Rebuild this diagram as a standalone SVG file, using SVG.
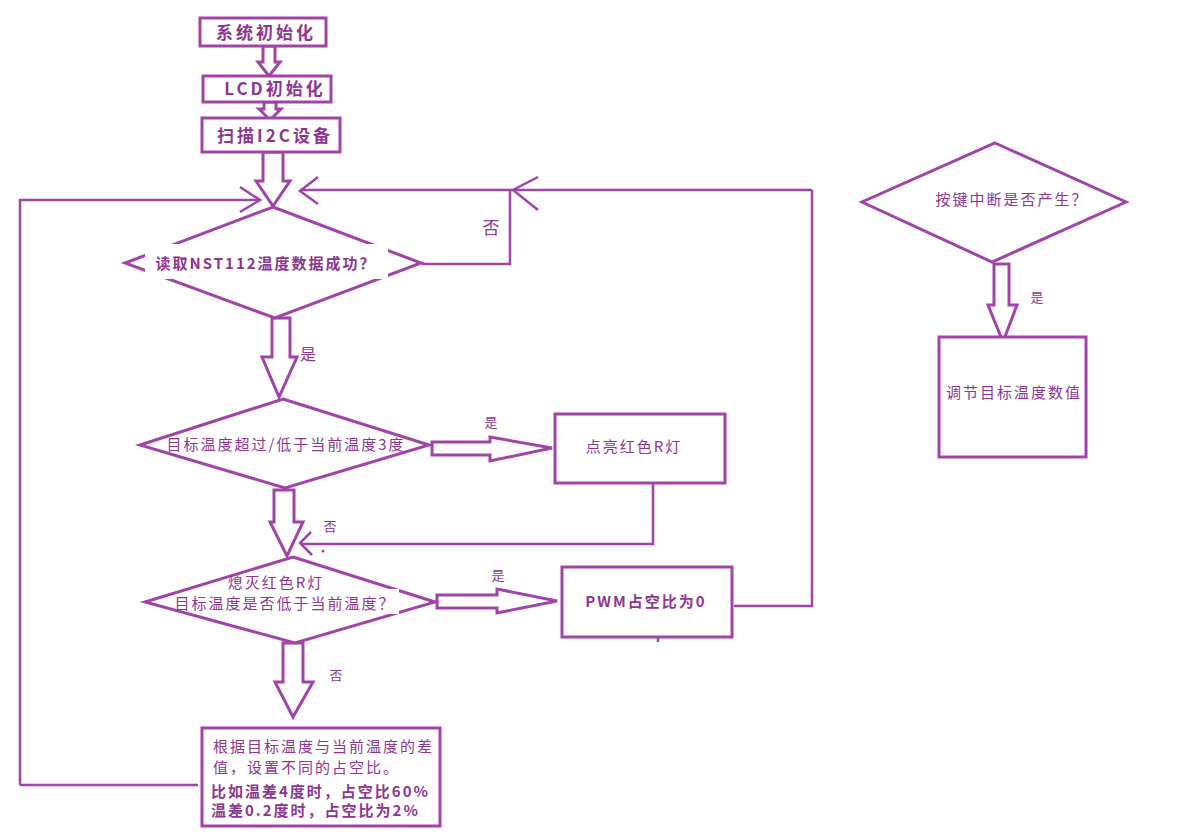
<svg xmlns="http://www.w3.org/2000/svg" width="1181" height="839" viewBox="0 0 1181 839">
<style>
.box{fill:#fff;stroke:#a044a8;stroke-width:3}
.dia{fill:#fff;stroke:#a044a8;stroke-width:3}
.ha{fill:#fff;stroke:#a044a8;stroke-width:3;stroke-linejoin:miter}
.ln{fill:none;stroke:#a044a8;stroke-width:2.5}
.t{font-family:"Noto Sans CJK SC","Liberation Sans",sans-serif;fill:#8e3592;font-size:15px;letter-spacing:2px}
.tb{font-family:"Noto Sans CJK SC","Liberation Sans",sans-serif;fill:#8e3592;font-size:17px;letter-spacing:3px;font-weight:bold}
.s{font-family:"Noto Sans CJK SC","Liberation Sans",sans-serif;fill:#8e3592;font-size:13px}
</style>
<rect width="1181" height="839" fill="#fff"/>
<g id="connectors">
  <polygon class="ha" points="263,46 275,46 275,62 280,62 269,76 258,62 263,62"/>
  <polygon class="ha" points="264,102 276,102 276,109 281,109 270,120 259,109 264,109"/>
  <polygon class="ha" points="263,152 283,152 283,181 290,181 273,206 256,181 263,181"/>
  <polyline class="ln" points="20,785 20,200 258,200"/>
  <polyline class="ln" points="240,187 260,200 240,212"/>
  <line class="ln" x1="20" y1="785" x2="198" y2="785"/>
  <polyline class="ln" points="422,264 510,264 510,190"/>
  <line class="ln" x1="300" y1="190" x2="812" y2="190"/>
  <polyline class="ln" points="318,177 300,191 318,204"/>
  <polyline class="ln" points="538,177 513,190 538,210"/>
  <polyline class="ln" points="734,606 812,606 812,190"/>
  <polygon class="ha" points="272,318 290,318 290,357 297,357 279,397 262,357 272,357"/>
  <polygon class="ha" points="432,442 490,442 490,437 552,448 490,461 490,455 432,455"/>
  <polyline class="ln" points="653,484 653,544 300,544"/>
  <polyline class="ln" points="311,532 300,543 312,555"/>
  <circle cx="323" cy="551" r="1.5" fill="#a044a8"/>
  <polygon class="ha" points="274,490 294,490 294,522 303,522 287,556 270,522 274,522"/>
  <polygon class="ha" points="437,595 497,595 497,589 557,601 497,613 497,608 437,608"/>
  <line class="ln" x1="658" y1="637" x2="658" y2="642"/>
  <polygon class="ha" points="283,643 303,643 303,682 313,682 293,717 275,682 283,682"/>
  <polygon class="ha" points="994,264 1009,264 1009,305 1017,305 1003,342 988,305 994,305"/>
</g>
<g id="labels">
  <text class="s" x="491" y="234" text-anchor="middle" style="font-size:17px">否</text>
  <text class="s" x="308" y="360" text-anchor="middle" style="font-size:16px">是</text>
  <text class="s" x="491" y="427" text-anchor="middle">是</text>
  <text class="s" x="330" y="531" text-anchor="middle">否</text>
  <text class="s" x="498" y="580" text-anchor="middle">是</text>
  <text class="s" x="336" y="680" text-anchor="middle">否</text>
  <text class="s" x="1037" y="302" text-anchor="middle">是</text>
</g>
<g id="n1"><rect class="box" x="200" y="18" width="126" height="28"/><text class="tb" x="266" y="39" text-anchor="middle">系统初始化</text></g>
<g id="n2"><rect class="box" x="203" y="76" width="128" height="26"/><text class="tb" x="275" y="95" text-anchor="middle">LCD初始化</text></g>
<g id="n3"><rect class="box" x="202" y="118" width="138" height="34"/><text class="tb" x="275" y="142" text-anchor="middle">扫描I2C设备</text></g>
<g id="d1">
  <polygon class="dia" points="273,207 421,263 275,318 125,263"/>
  <rect x="145" y="244" width="243" height="35" fill="#fff"/>
  <text class="t" x="266" y="269" text-anchor="middle" font-weight="bold">读取NST112温度数据成功？</text>
</g>
<g id="d2">
  <polygon class="dia" points="283,399 429,445 285,488 140,445"/>
  <text class="t" x="286" y="450" text-anchor="middle">目标温度超过/低于当前温度3度</text>
</g>
<g id="n4"><rect class="box" x="555" y="414" width="170" height="69"/><text class="t" x="634" y="452" text-anchor="middle">点亮红色R灯</text></g>
<g id="d3">
  <polygon class="dia" points="293,557 435,602 295,643 145,602"/>
  <rect x="245" y="589" width="154" height="25" fill="#fff"/>
  <text class="t" x="276" y="588" text-anchor="middle">熄灭红色R灯</text>
  <text class="t" x="285" y="609" text-anchor="middle">目标温度是否低于当前温度？</text>
</g>
<g id="n5"><rect class="box" x="562" y="567" width="170" height="70"/><text class="t" x="646" y="607" text-anchor="middle" font-weight="bold">PWM占空比为0</text></g>
<g id="n6">
  <rect class="box" x="202" y="728" width="238" height="98"/>
  <text class="t" x="213" y="752">根据目标温度与当前温度的差</text>
  <text class="t" x="213" y="773">值，设置不同的占空比。</text>
  <text class="t" x="211" y="797" font-weight="bold">比如温差4度时，占空比60%</text>
  <text class="t" x="211" y="816" font-weight="bold">温差0.2度时，占空比为2%</text>
</g>
<g id="d4">
  <polygon class="dia" points="995,143 1126,202 992,262 862,202"/>
  <text class="t" x="1012" y="205" text-anchor="middle">按键中断是否产生？</text>
</g>
<g id="n7"><rect class="box" x="939" y="337" width="147" height="120"/><text class="t" x="1014" y="398" text-anchor="middle">调节目标温度数值</text></g>
</svg>
